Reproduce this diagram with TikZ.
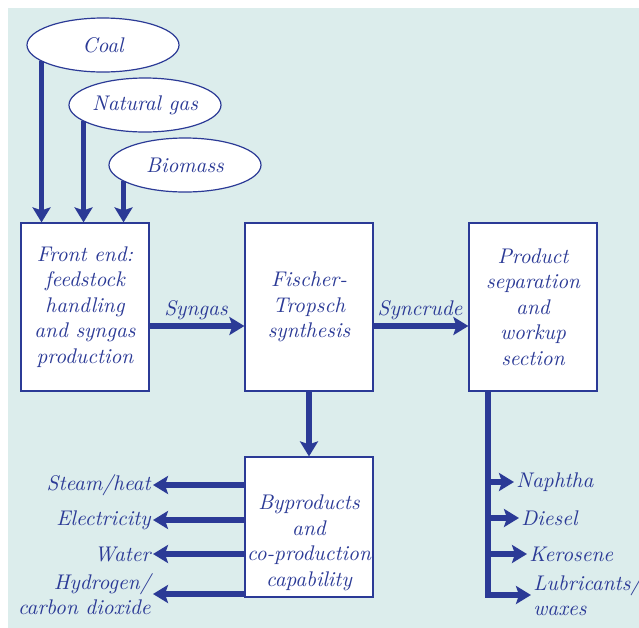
\documentclass[tikz,border=0pt]{standalone}
\usetikzlibrary{arrows.meta,shapes.geometric}
\definecolor{fblue}{HTML}{2B3A96}
\definecolor{panel}{HTML}{DCEDEC}

\begin{document}
\begin{tikzpicture}[x=0.5pt,y=-0.5pt,
		every node/.style={text=fblue,font=\fontsize{10.6}{12.75}\selectfont\itshape},
		feed/.style={ellipse,draw=fblue,fill=white,line width=0.6pt,inner sep=0pt,minimum width=76pt,minimum height=27pt},
		stage/.style={rectangle,draw=fblue,fill=white,line width=0.6pt,inner xsep=0.5pt,minimum width=64pt,minimum height=84pt,align=center},
		flow/.style={draw=fblue,line width=2.6pt,-{Stealth[length=7.5pt,width=9pt,inset=1.5pt]}},
		outlabel/.style={inner sep=1pt}]
		\useasboundingbox (0,0) rectangle (639,628);
		\fill[panel] (8,8) rectangle (639,628);

		% feedstocks
		\node[feed] (coal) at (103,45) {Coal};
		\node[feed] (natgas) at (145,105) {Natural gas};
		\node[feed] (biomass) at (185,165) {Biomass};

		% main stages
		\node[stage] (frontend) at (85,307) {Front end:\\feedstock\\handling\\and syngas\\production};
		\node[stage] (ftsynth) at (309,307) {Fischer-\\Tropsch\\synthesis};
		\node[stage] (product) at (533,307) {Product\\separation\\and\\workup\\section};
		\node[stage, minimum height=70pt,
			label={[name=bytext, align=center, inner xsep=0pt, yshift=-8pt]center:Byproducts\\and\\co-production\\capability}] (byprod) at (309,527) {};

		\node (syngas) at (196,310) {Syngas};
		\node (syncrude) at (420,310) {Syncrude};

		\draw[flow] (coal.195) -- (coal.195 |- frontend.north);
		\draw[flow] (natgas.195) -- (natgas.195 |- frontend.north);
		\draw[flow] (biomass.195) -- (biomass.195 |- frontend.north);

		\draw[flow] ([yshift=-9.5pt]frontend.east) -- ([yshift=-9.5pt]ftsynth.west);
		\draw[flow] ([yshift=-9.5pt]ftsynth.east) -- ([yshift=-9.5pt]product.west);
		\draw[flow] (ftsynth.south) -- (byprod.north);

		% byproducts
		\node[outlabel, anchor=east] (steam) at (153,485) {Steam/heat};
		\node[outlabel, anchor=east] (elec) at (153,520) {Electricity};
		\node[outlabel, anchor=east] (water) at (153,554) {Water};
		\node[outlabel, anchor=east, align=right] (hydrogen) at (153,594) {Hydrogen/\\carbon dioxide};

		\draw[flow] (byprod.west |- steam.east) -- (steam.east);
		\draw[flow] (byprod.west |- elec.east) -- (elec.east);
		\draw[flow] (byprod.west |- water.east) -- (water.east);
		\draw[flow] (byprod.west |- hydrogen.east) -- (hydrogen.east);

		% products
		\coordinate (trunk) at (488,391);
		\node[outlabel, anchor=west] (naphtha) at (514,482) {Naphtha};
		\node[outlabel, anchor=west] (diesel) at (519,518) {Diesel};
		\node[outlabel, anchor=west] (kerosene) at (527,554) {Kerosene};
		\node[outlabel, anchor=west, align=left] (lubricants) at (531,595) {Lubricants/\\waxes};

		\draw[flow] (trunk) |- (naphtha.west);
		\draw[flow] (trunk) |- (diesel.west);
		\draw[flow] (trunk) |- (kerosene.west);
		\draw[flow] (trunk) |- (lubricants.west);
	\end{tikzpicture}
\end{document}
